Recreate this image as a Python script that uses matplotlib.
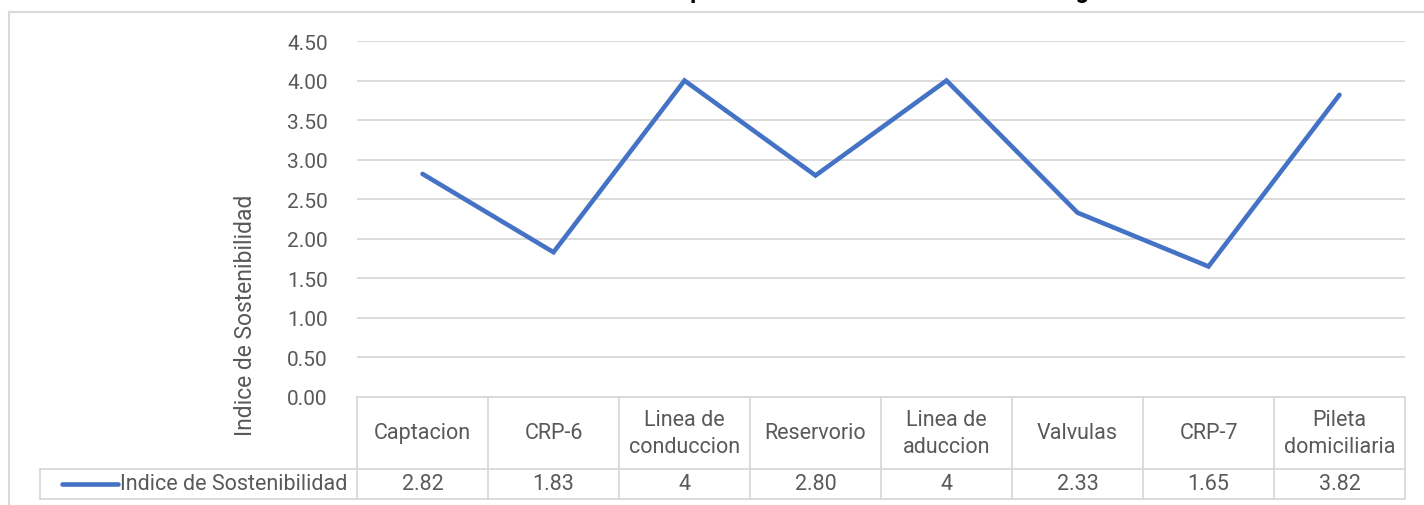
import matplotlib.pyplot as plt
import matplotlib.transforms as mtransforms

"""
    Indice de Sostenibilidad por componente
"""

categories = ['Captacion', 'CRP-6', 'Linea de\nconduccion', 'Reservorio',
              'Linea de\naduccion', 'Valvulas', 'CRP-7', 'Pileta\ndomiciliaria']
values = [2.82, 1.83, 4, 2.80, 4, 2.33, 1.65, 3.82]
value_labels = ['2.82', '1.83', '4', '2.80', '4', '2.33', '1.65', '3.82']
series_name = 'Indice de Sostenibilidad'
title = 'Indice de Sostenibilidad por Infraestructura del Sistema de Agua'
yticks = [0, 0.5, 1, 1.5, 2, 2.5, 3, 3.5, 4, 4.5]

blue = '#4472C4'
grid = '#D9D9D9'
txt = '#595959'
fam = ['Roboto', 'DejaVu Sans']

W, H = 1424, 506
fig = plt.figure(figsize=(W / 100, H / 100), dpi=100)

# plot area in pixels
left, right, top, bottom = 357, 1405, 42, 398
ax = fig.add_axes([left / W, 1 - bottom / H, (right - left) / W, (bottom - top) / H])

x = list(range(len(values)))
ax.plot(x, values, color=blue, lw=3.3, solid_capstyle='round', solid_joinstyle='miter', zorder=3)
ax.set_xlim(-0.5, len(values) - 0.5)
ax.set_ylim(0, 4.5)
ax.set_yticks(yticks)
ax.set_yticklabels(['%.2f' % v for v in yticks], family=fam, fontsize=15, color=txt)
ax.tick_params(axis='y', length=0, pad=21)
ax.set_xticks([])
ax.yaxis.grid(True, color=grid, lw=1.3)
ax.set_axisbelow(True)
for s in ax.spines.values():
    s.set_visible(False)

ax.set_ylabel(series_name, family=fam, fontsize=16.5, color=txt)
ax.yaxis.set_label_coords(-0.0954, 0.233)

# data table under the plot
trans = mtransforms.blended_transform_factory(ax.transData, ax.transAxes)
ph = bottom - top
cw = (right - left) / len(values)
r1 = -72 / ph   # bottom of header row
r2 = -102 / ph  # bottom of value row
xleft = -0.5 - (left - 40) / cw
kw = dict(transform=trans, clip_on=False, color=grid, lw=1.3)

ax.plot([-0.5, len(values) - 0.5], [0, 0], **kw)
ax.plot([xleft, len(values) - 0.5], [r1, r1], **kw)
ax.plot([xleft, len(values) - 0.5], [r2, r2], **kw)
ax.plot([xleft, xleft], [r1, r2], **kw)
for i in range(len(values) + 1):
    ax.plot([i - 0.5, i - 0.5], [0, r2], **kw)

for i, (c, lab) in enumerate(zip(categories, value_labels)):
    ax.text(i, r1 / 2, c, transform=trans, ha='center', va='center', family=fam,
            fontsize=15.5, color=txt, linespacing=1.4)
    ax.text(i, (r1 + r2) / 2, lab, transform=trans, ha='center', va='center', family=fam,
            fontsize=15.5, color=txt)

# legend key inside the table
ym = (r1 + r2) / 2
ax.plot([-0.5 - (left - 62) / cw, -0.5 - (left - 118) / cw], [ym, ym], transform=trans,
        clip_on=False, color=blue, lw=3.3, solid_capstyle='round')
ax.text(-0.5 - (left - 120) / cw, ym, series_name, transform=trans, ha='left', va='center',
        family=fam, fontsize=15.5, color=txt)

# chart border (cut at the top and right)
fig.add_artist(plt.Line2D([9 / W, 9 / W], [0, 1 - 13 / H], color=grid, lw=1.5))
fig.add_artist(plt.Line2D([9 / W, 1], [1 - 13 / H, 1 - 13 / H], color=grid, lw=1.5))

# title, cut off at the top edge: only the descenders show
fig.text(430 / W, 1 + 2 / H, title, ha='left', va='baseline', fontsize=17,
         fontweight='bold', family=fam, color='black')

fig.savefig('out.png', dpi=100)
